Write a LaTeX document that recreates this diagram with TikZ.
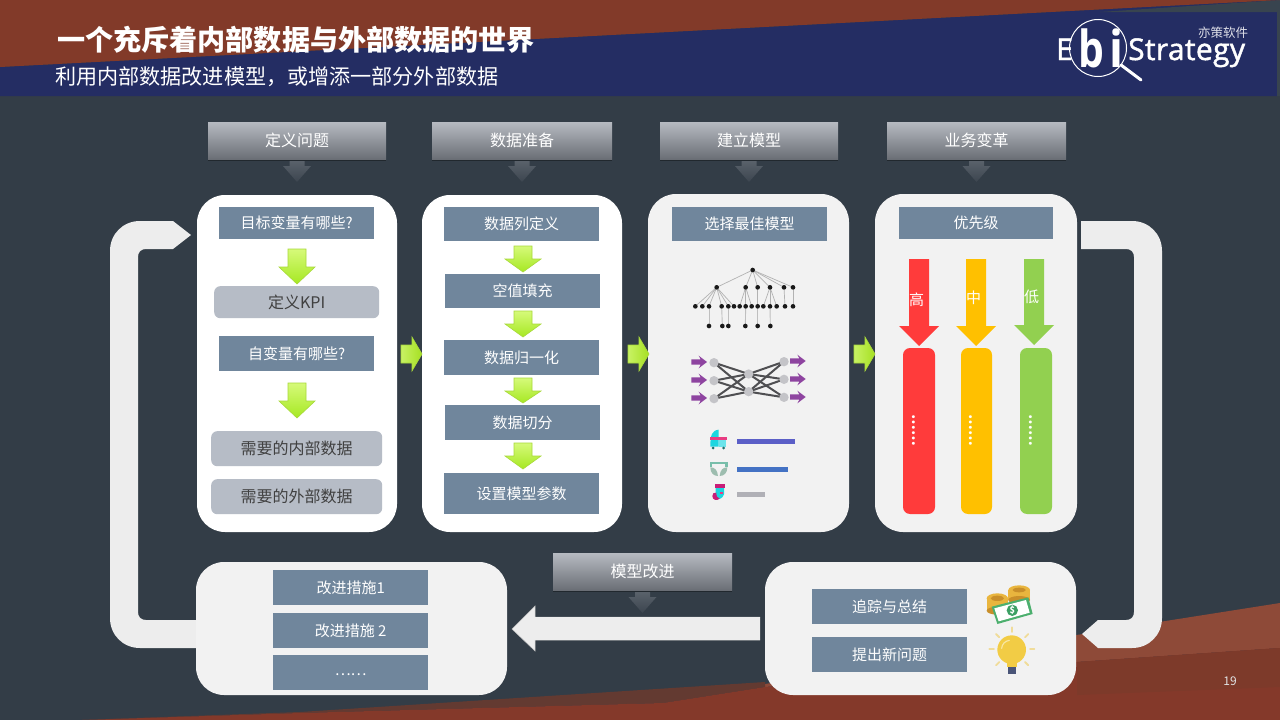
\documentclass[tikz,border=0pt]{standalone}
\usepackage{fontspec}
\setmainfont{Noto Sans CJK SC}
\newfontfamily\logofont[FakeBold=1.5,LetterSpace=1.2]{Open Sans}
\newfontfamily\logobig{Open Sans}
\usetikzlibrary{calc}
\definecolor{bgdark}{HTML}{333D47}
\definecolor{navyband}{HTML}{242D63}
\definecolor{brownA}{HTML}{823A29}
\definecolor{brownB}{HTML}{8E4A38}
\definecolor{brownC}{HTML}{633A31}
\definecolor{brownD}{HTML}{84392A}
\definecolor{brownE}{HTML}{7D3A2A}
\definecolor{wedge}{HTML}{38444F}
\definecolor{slate}{HTML}{70869C}
\definecolor{paleslate}{HTML}{B6BCC6}
\definecolor{cardgrey}{HTML}{F2F2F2}
\definecolor{loopgrey}{HTML}{EDEDED}
\definecolor{hdtop}{HTML}{B6BAC1}
\definecolor{hdbot}{HTML}{6A6E75}
\definecolor{prired}{HTML}{FF3B3B}
\definecolor{priyel}{HTML}{FFC000}
\definecolor{prigrn}{HTML}{92D050}
\definecolor{purp}{HTML}{8E44A0}
\definecolor{netdark}{HTML}{4F4F52}
\definecolor{netnode}{HTML}{C4C4C8}
\definecolor{grntop}{HTML}{D6FA7A}
\definecolor{grnbot}{HTML}{A6E822}
\definecolor{grnedge}{HTML}{A8D93A}
\definecolor{grnleft}{HTML}{C8F264}
\definecolor{grnright}{HTML}{A6E022}
\definecolor{hdarrtop}{HTML}{5C646D}
\definecolor{hdarrbot}{HTML}{3C454F}
\definecolor{barA}{HTML}{5B5FC7}
\definecolor{barB}{HTML}{4472C4}
\definecolor{barC}{HTML}{B0B0B6}
\definecolor{icyan}{HTML}{1CD6E0}
\definecolor{ipink}{HTML}{E83C82}
\definecolor{imag}{HTML}{C81E78}
\definecolor{iteal}{HTML}{78BEAA}
\definecolor{isage}{HTML}{9DBDAF}
\definecolor{iwheel}{HTML}{1F6F6F}
\definecolor{coin}{HTML}{E9B53E}
\definecolor{coind}{HTML}{C98F2A}
\definecolor{billg}{HTML}{4CAF6E}
\definecolor{billd}{HTML}{3CA064}
\definecolor{bulbray}{HTML}{F0DC9A}
\definecolor{bulbbase}{HTML}{4A5578}
\definecolor{bulb}{HTML}{F2CC45}
\definecolor{bulbhi}{HTML}{F8E6A2}
\tikzset{
  pxtext/.style={font=\fontsize{#1}{#1}\selectfont},
  bluebox/.style={fill=slate,text=white,inner sep=0pt,pxtext=15},
  palebox/.style={fill=paleslate,text=black!75,rounded corners=6pt,inner sep=0pt,pxtext=16},
  headbox/.style={top color=hdtop,bottom color=hdbot,text=white,inner sep=0pt,pxtext=16},
  cardw/.style={fill=white,rounded corners=28pt},
  cardg/.style={fill=cardgrey,rounded corners=28pt},
  grnd/.style={top color=grntop,bottom color=grnbot,draw=grnedge,line width=.6pt},
  grnr/.style={left color=grnleft,right color=grnright,draw=grnedge,line width=.6pt},
  looparrow/.style={fill=loopgrey},
  hdarrow/.style={top color=hdarrtop,bottom color=hdarrbot},
  bar/.style={rounded corners=7pt},
}
% box: name, x0, y0, x1, y1, style, text
\newcommand{\labelbox}[7]{\node[#6,minimum width=#4pt-#2pt,minimum height=#5pt-#3pt,anchor=north west] (#1) at (#2,#3) {#7};}
% header with down arrow: name, x0, x1, y0, y1, arrow length, text
\newcommand{\headerbox}[7]{%
  \pgfmathsetmacro{\cx}{(#2+#3)/2}%
  \path[hdarrow] (\cx-7.5,#5) -- (\cx+7.5,#5) -- (\cx+7.5,#5+7) -- (\cx+14,#5+7) -- (\cx,#5+#6) -- (\cx-14,#5+7) -- (\cx-7.5,#5+7) -- cycle;
  \fill[black!35!bgdark] (#2,#5-.5) rectangle (#3,#5+1.5);
  \labelbox{#1}{#2}{#4}{#3}{#5}{headbox}{#7}
}
% green down arrow: cx, top, headstart, tip
\newcommand{\greendown}[4]{\path[grnd] (#1-9,#2) -- (#1+9,#2) -- (#1+9,#3) -- (#1+18,#3) -- (#1,#4) -- (#1-18,#3) -- (#1-9,#3) -- cycle;}
\newcommand{\greenright}[1]{\path[grnr] (#1,345) -- (#1+11,345) -- (#1+11,337) -- (#1+21,354) -- (#1+11,371) -- (#1+11,363) -- (#1,363) -- cycle;}
\begin{document}
\begin{tikzpicture}[x=1pt,y=-1pt]
\useasboundingbox (0,0) rectangle (1280,720);
\clip (0,0) rectangle (1280,720);
% background
\fill[bgdark] (0,0) rectangle (1280,720);
\fill[navyband] (0,67) -- (1280,0) -- (1277,0) -- (1277,96) -- (0,96) -- cycle;
\fill[wedge] (1100,12) -- (1280,0) -- (1280,96) -- (1277,96) -- (1277,12) -- cycle;
\fill[brownA] (0,0) -- (1280,0) -- (0,67) -- cycle;
\fill[brownB] (765,684) -- (1280,603) -- (1280,648) -- (1077,662) -- (765,687) -- cycle;
\fill[brownC] (82,720) -- (300,712) -- (765,682) -- (765,687) -- (663,703) -- (300,713) -- cycle;
\fill[brownD] (82,720) -- (300,713) -- (663,703) -- (765,687) -- (1077,662) -- (1280,648) -- (1280,720) -- cycle;
\fill[brownE] (1077,662) -- (1280,648) -- (1280,687) -- (1077,695) -- cycle;
% titles
\node[anchor=west,text=white,inner sep=0pt,font=\fontsize{28.1}{28}\selectfont\bfseries] (title) at (57,40) {一个充斥着内部数据与外部数据的世界};
\node[anchor=west,text=white,inner sep=0pt,font=\fontsize{21.1}{22}\selectfont] (subtitle) at (55,77) {利用内部数据改进模型，或增添一部分外部数据};
% logo
\node[anchor=base west,text=white,inner sep=0pt,font=\logofont\fontsize{30}{30}\selectfont] (logoE) at (1056,60) {E};
\node[anchor=base west,text=white,inner sep=0pt] (logob) at (1078,67) {\scalebox{.8}[1]{\logobig\bfseries\fontsize{51}{51}\selectfont b}};
\node[anchor=base west,text=white,inner sep=0pt] (logoi) at (1109,67) {\scalebox{.9}[1]{\logobig\bfseries\fontsize{51}{51}\selectfont i}};
\node[anchor=base west,text=white,inner sep=0pt,font=\logofont\fontsize{30}{30}\selectfont] (logoS) at (1128,60) {Strategy};
\node[anchor=center,text=white!85!navyband,inner sep=0pt,font=\fontsize{12.5}{13}\selectfont] (logoCN) at (1223,33) {亦策软件};
\draw[white,line width=1pt] (1098,48) circle [radius=28.5];
\draw[white,line width=3pt,line cap=round] (1121,65) -- (1141,80);
% feedback loops
\fill[looparrow] (196,620) -- (146,620) .. controls (141,620) and (138,617) .. (138,612) -- (138,257) .. controls (138,252) and (141,249) .. (146,249) -- (173,249) -- (191,235) -- (173,221) -- (140,221) .. controls (123,221) and (110,234) .. (110,251) -- (110,618) .. controls (110,635) and (123,648) .. (140,648) -- (196,648) -- cycle;
\fill[looparrow] (1081,221) -- (1132,221) .. controls (1149,221) and (1162,234) .. (1162,251) -- (1162,618) .. controls (1162,635) and (1149,648) .. (1132,648) -- (1098,648) -- (1082,634) -- (1098,620) -- (1126,620) .. controls (1131,620) and (1134,617) .. (1134,612) -- (1134,257) .. controls (1134,252) and (1131,249) .. (1126,249) -- (1081,249) -- cycle;
\path[looparrow,draw=black!25,line width=.5pt] (760,617) -- (535,617) -- (535,606) -- (512,629) -- (535,651) -- (535,640) -- (760,640);
\fill[looparrow] (760,617.3) rectangle (534.3,639.7);
% cards
\fill[cardw] (197,195) rectangle (397,532);
\fill[cardw] (422,195) rectangle (622,532);
\fill[cardg] (648,194) rectangle (849,532);
\fill[cardg] (875,194) rectangle (1077,532);
\fill[cardg] (196,562) rectangle (507,695);
\fill[cardg] (765,562) rectangle (1076,695);
% headers
\headerbox{hA}{208}{386}{122}{159}{23}{定义问题}
\headerbox{hB}{432}{612}{122}{159}{23}{数据准备}
\headerbox{hC}{660}{838}{122}{159}{23}{建立模型}
\headerbox{hD}{887}{1066}{122}{159}{23}{业务变革}
\headerbox{hE}{553}{732}{553}{590}{23}{模型改进}
% column 1
\labelbox{a1}{219}{207}{374}{239}{bluebox}{目标变量有哪些?}
\labelbox{a2}{214}{286}{379}{318}{palebox}{定义KPI}
\labelbox{a3}{219}{336}{374}{371}{bluebox}{自变量有哪些?}
\labelbox{a4}{211}{431}{382}{466}{palebox}{需要的内部数据}
\labelbox{a5}{211}{479}{382}{514}{palebox}{需要的外部数据}
\greendown{297}{249}{267}{284}
\greendown{297}{383}{401}{418}
% column 2
\labelbox{b1}{444}{207}{599}{241}{bluebox}{数据列定义}
\labelbox{b2}{445}{274}{600}{308}{bluebox}{空值填充}
\labelbox{b3}{444}{340}{599}{375}{bluebox}{数据归一化}
\labelbox{b4}{445}{405}{600}{440}{bluebox}{数据切分}
\labelbox{b5}{444}{473}{599}{514}{bluebox}{设置模型参数}
\greendown{523}{246}{259}{272}
\greendown{523}{311}{324}{337}
\greendown{523}{378}{391}{403}
\greendown{523}{443}{456}{469}
% column 3, 4 heads
\labelbox{c1}{672}{207}{827}{241}{bluebox}{选择最佳模型}
\labelbox{d1}{899}{207}{1053}{239}{bluebox}{优先级}
% right arrows
\greenright{401}
\greenright{628}
\greenright{854}
% bottom
\labelbox{e1}{273}{570}{428}{605}{bluebox}{改进措施1}
\labelbox{e2}{273}{613}{428}{648}{bluebox}{改进措施 2}
\labelbox{e3}{273}{655}{428}{690}{bluebox}{\raisebox{-5pt}{……}}
\labelbox{f1}{812}{589}{967}{624}{bluebox}{追踪与总结}
\labelbox{f2}{812}{637}{967}{672}{bluebox}{提出新问题}
% tree, network, legend (coordinates measured at 3x around 660,250)
\begin{scope}[shift={(660,250)},x=0.33333pt,y=-0.33333pt]
 \foreach \a/\b in {278/170,278/257,278/293,278/330,278/372,278/399}
   \draw[black!30,line width=.7pt] (\a,60) -- (\b,112);
 \foreach \a/\b in {170/106,170/127,170/147,170/185,170/205,170/222,257/239,257/257,257/275,293/293,330/310,330/330,330/350,372/375,399/399}
   \draw[black!30,line width=.7pt] (\a,112) -- (\b,169);
 \foreach \a/\b in {147/147,185/187,205/205,257/256,293/293,330/331}
   \draw[black!25,line width=.9pt] (\a,169) -- (\b,228);
 \fill[black!90] (278,60) circle [radius=7];
 \foreach \p in {170,257,293,330,372,399} \fill[black!90] (\p,112) circle [radius=7];
 \foreach \p in {106,127,147,185,205,222,239,257,275,293,310,330,350,375,399} \fill[black!90] (\p,169) circle [radius=7];
 \foreach \p in {147,187,205,256,293,331} \fill[black!90] (\p,228) circle [radius=7];
 % network
 \foreach \ya in {338,392,446} \foreach \yb in {372,425} \draw[netdark,line width=2pt] (162,\ya) -- (266,\yb);
 \foreach \ya in {372,425} \foreach \yb in {335,388,442} \draw[netdark,line width=2pt] (266,\ya) -- (372,\yb);
 \foreach \p/\q in {162/338,162/392,162/446,266/372,266/425,372/335,372/388,372/442} \fill[netnode] (\p,\q) circle [radius=14];
 \foreach \y in {336,390,444} \fill[purp] (94,\y-8) -- (122,\y-8) -- (116,\y-19) -- (141,\y) -- (116,\y+19) -- (122,\y+8) -- (94,\y+8) -- cycle;
 \foreach \y in {333,387,441} \fill[purp] (390,\y-8) -- (418,\y-8) -- (412,\y-19) -- (437,\y) -- (412,\y+19) -- (418,\y+8) -- (390,\y+8) -- cycle;
 % legend bars
 \fill[barA] (232,567) rectangle (405,582);
 \fill[barB] (232,650) rectangle (383,665);
 \fill[barC] (232,727) rectangle (314,741);
 % stroller
 \fill[icyan] (176,539) .. controls (155,542) and (151,555) .. (151,590) -- (176,590) -- cycle;
 \fill[icyan!65!white] (176,570) rectangle (197,590);
 \fill[ipink] (150,562) rectangle (201,570);
 \fill[iwheel] (159,594) circle [radius=4.5];
 \fill[iwheel] (191,594) circle [radius=4.5];
 % diaper
 \fill[iteal] (150,637) rectangle (203,642);
 \fill[iteal] (150,642) rectangle (157,652);
 \fill[iteal] (196,642) rectangle (203,652);
 \fill[isage] (151,652) .. controls (165,652) and (172,660) .. (174,678) .. controls (160,678) and (151,668) .. (151,652) -- cycle;
 \fill[isage] (202,652) .. controls (188,652) and (181,660) .. (179,678) .. controls (193,678) and (202,668) .. (202,652) -- cycle;
 % sock
 \fill[icyan] (167,712) -- (192,712) -- (192,733) .. controls (188,746) and (176,750) .. (167,745) -- cycle;
 \fill[imag] (165,703) rectangle (195,714);
 \fill[imag] (157,738) .. controls (157,730) and (162,727) .. (169,728) .. controls (169,738) and (172,745) .. (179,746) .. controls (172,753) and (157,751) .. (157,738) -- cycle;
 \fill[ipink] (181,725) rectangle (189,733);
\end{scope}
% priority
\begin{scope}[shift={(880,250)},x=0.33333pt,y=-0.33333pt]
 \fill[prired] (87,27) -- (147,27) -- (147,228) -- (177,228) -- (117,288) -- (57,228) -- (87,228) -- cycle;
 \fill[priyel] (258,27) -- (318,27) -- (318,228) -- (348,228) -- (288,288) -- (228,228) -- (258,228) -- cycle;
 \fill[prigrn] (432,27) -- (492,27) -- (492,225) -- (522,225) -- (462,285) -- (402,225) -- (432,225) -- cycle;
 \fill[prired,bar] (69,294) rectangle (165,792);
 \fill[priyel,bar] (243,294) rectangle (336,792);
 \fill[prigrn,bar] (420,294) rectangle (516,792);
 \node[text=white,inner sep=0pt,pxtext=15] (phi) at (110,148) {高};
 \node[text=white,inner sep=0pt,pxtext=15] (pmid) at (281,143) {中};
 \node[text=white,inner sep=0pt,pxtext=15] (plo) at (455,140) {低};
 \node[text=white,inner sep=0pt,rotate=-90,font=\fontsize{14}{14}\selectfont\bfseries] (d1) at (101,540) {……};
 \node[text=white,inner sep=0pt,rotate=-90,font=\fontsize{14}{14}\selectfont\bfseries] (d2) at (272,540) {……};
 \node[text=white,inner sep=0pt,rotate=-90,font=\fontsize{14}{14}\selectfont\bfseries] (d3) at (452,540) {……};
\end{scope}
% icons
\begin{scope}[shift={(760,540)},x=0.33333pt,y=-0.33333pt]
 \fill[coin] (745,150) rectangle (810,180);
 \fill[coind] (777.5,180) ellipse [x radius=32.5,y radius=12];
 \fill[coin] (777.5,150) ellipse [x radius=32.5,y radius=14];
 \fill[coind] (777.5,150) ellipse [x radius=20,y radius=7];
 \fill[coin] (680,175) rectangle (744,212);
 \fill[coind] (712,212) ellipse [x radius=32,y radius=12];
 \fill[coin] (712,175) ellipse [x radius=32,y radius=15];
 \fill[coind] (712,175) ellipse [x radius=20,y radius=8];
 \fill[billg] (695,200) -- (805,172) -- (818,222) -- (712,252) -- cycle;
 \fill[white] (703,205) -- (798,180) -- (809,218) -- (716,244) -- cycle;
 \fill[billd] (757,211) circle [radius=17];
 \node[text=white,inner sep=0pt,font=\fontsize{9}{9}\selectfont\bfseries] (dollar) at (757,211) {\$};
 % bulb
 \foreach \a/\b/\c/\d in {755/262/755/276,795/292/805/282,810/328/823/328,688/328/702/328,708/282/718/292,708/376/718/366,795/366/805/376}
   \draw[bulbray,line width=1.8pt,line cap=round] (\a,\b) -- (\c,\d);
 \fill[bulbbase] (743,376) rectangle (768,402);
 \fill[bulb] (755,329) circle [radius=43];
 \fill[bulb] (740,360) rectangle (770,380);
 \draw[bulbhi,line width=1.2pt,line cap=round] (725,325) .. controls (726,312) and (735,303) .. (748,301);
\end{scope}
\node[text=white!85!bgdark,inner sep=0pt,pxtext=12] (page) at (1230,681) {19};
\end{tikzpicture}
\end{document}
